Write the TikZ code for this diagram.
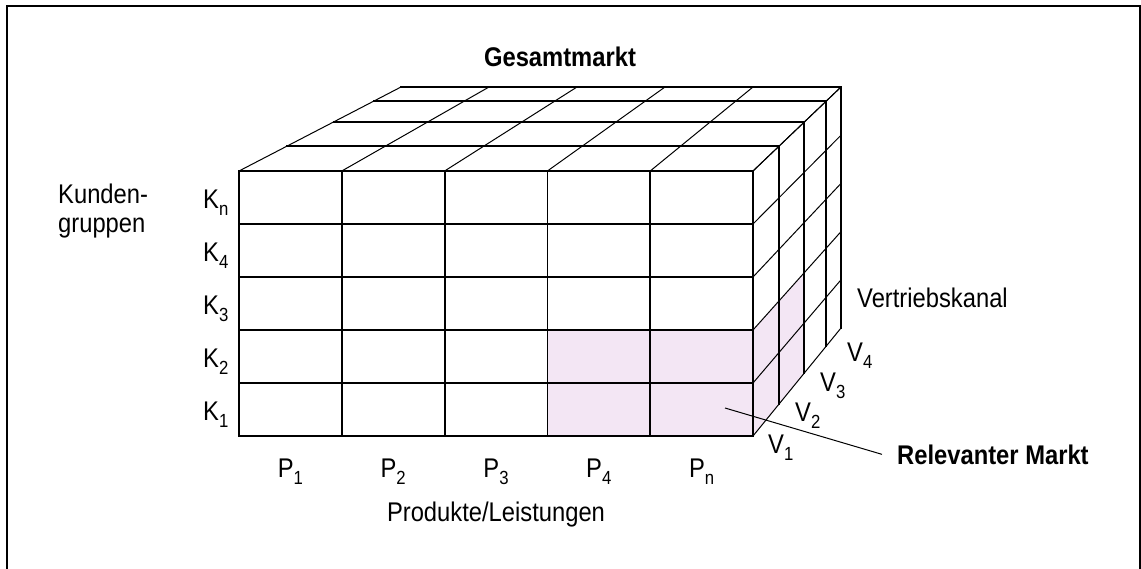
\documentclass[tikz,border=0pt]{standalone}
\usepackage{fontspec}
\setmainfont{Liberation Sans}[FakeStretch=0.88]
\definecolor{relpink}{RGB}{243,230,244}
\newcommand{\idx}[2]{#1\raisebox{-7pt}{\fontsize{19}{19}\selectfont #2}}

\begin{document}
\begin{tikzpicture}[x=1pt,y=-1pt,txt/.style={font=\fontsize{27}{29}\selectfont,inner sep=0pt},bold/.style={font=\fontsize{27}{29}\selectfont\bfseries,inner sep=0pt},edge/.style={draw=black,line width=1.8pt,line cap=rect},slant/.style={draw=black,line width=1pt}]
\useasboundingbox (0,0) rectangle (1141,568);
\draw[line width=2pt] (7,580)--(7,6)--(1140,6)--(1140,580);
% relevanter Markt
\fill[relpink] (547,330) rectangle (753,436);
\fill[relpink] (753,330)--(753,436)--(804.3,373)--(804.3,272.6)--cycle;
% top face
\foreach \t in {0.298,0.583,0.833,1}
  \draw[edge] ({239+162*\t},{171-84*\t})--({753+88*\t},{171-84*\t});
\foreach \i in {0,...,5}
  \draw[slant] ({239+102.8*\i},171)--({401+88*\i},87);
% right face
\foreach \t in {0.298,0.583,0.833,1}
  \draw[edge] ({753+88*\t},{171-84*\t})--({753+88*\t},{436-108*\t});
\foreach \j in {0,...,5}
  \draw[slant] (753,{171+53*\j})--(841,{87+48.2*\j});
% front face
\foreach \i in {0,...,5}
  \draw[edge] ({239+102.8*\i},171)--({239+102.8*\i},436);
\foreach \j in {0,...,5}
  \draw[edge] (239,{171+53*\j})--(753,{171+53*\j});
% labels
\node[bold] (title) at (560,57) {Gesamtmarkt};
\node[txt,align=left,anchor=base west] (kgr) at (58,232) {Kunden-\\gruppen};
\foreach \j/\k in {0/n,1/4,2/3,3/2,4/1}
  \node[txt,anchor=base west] (k\k) at (203,{208+53*\j}) {\idx{K}{\k}};
\foreach \i/\p in {0/1,1/2,2/3,3/4,4/n}
  \node[txt,anchor=base] (p\p) at ({290.4+102.8*\i},477) {\idx{P}{\p}};
\node[txt,anchor=base] (prod) at (496,521) {Produkte/Leistungen};
\node[txt,anchor=base west] (vk) at (857,307) {Vertriebskanal};
\foreach \v/\x/\y in {1/768/453,2/795/421,3/820/391,4/847/361}
  \node[txt,anchor=base west] (v\v) at (\x,\y) {\idx{V}{\v}};
\node[bold,anchor=base west] (rel) at (897,464) {Relevanter Markt};
\coordinate (rm) at (725,408);
\draw[line width=1pt] (rm)--([xshift=-15pt]rel.west);
\end{tikzpicture}
\end{document}
